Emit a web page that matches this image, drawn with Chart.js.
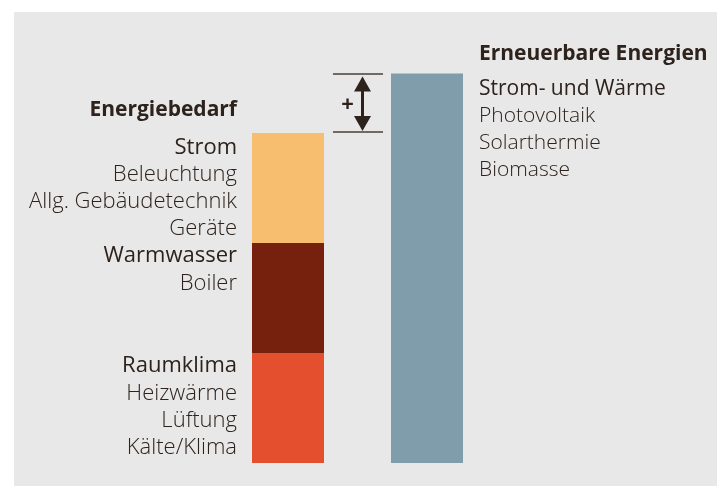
<!DOCTYPE html>
<html>
<head>
<meta charset="utf-8">
<script src="https://cdn.jsdelivr.net/npm/chart.js@4"></script>
<style>
html,body{margin:0;padding:0;background:#ffffff;}
#wrap{position:relative;width:724px;height:486px;}
</style>
</head>
<body>
<div id="wrap"><canvas id="c"></canvas></div>
<script>
// ---- data ----
const categories = ['Energiebedarf', 'Erneuerbare Energien'];
const raumklima = [1, null];
const warmwasser = [1, null];
const strom = [1, null];
const erneuerbar = [null, 3.54];

const demandTitle = 'Energiebedarf';
const stromLabels = ['Strom', 'Beleuchtung', 'Allg. Gebäudetechnik', 'Geräte'];
const warmwasserLabels = ['Warmwasser', 'Boiler'];
const raumklimaLabels = ['Raumklima', 'Heizwärme', 'Lüftung', 'Kälte/Klima'];
const supplyTitle = 'Erneuerbare Energien';
const supplyLabels = ['Strom- und Wärme', 'Photovoltaik', 'Solarthermie', 'Biomasse'];
const deltaLabel = '+';

const TEXT = '#2d221c';
const FONT = '"Open Sans", "Noto Sans", sans-serif';
const FS = 21;

const bgPlugin = {
  id: 'bg',
  beforeDraw(chart) {
    const ctx = chart.ctx;
    ctx.save();
    ctx.fillStyle = '#ffffff';
    ctx.fillRect(0, 0, chart.width, chart.height);
    ctx.fillStyle = '#e8e8e8';
    ctx.fillRect(14, 12, 703, chart.height - 12);
    ctx.restore();
  }
};

function drawLines(ctx, lines, x, y0, step, align, size) {
  ctx.textAlign = align;
  ctx.textBaseline = 'middle';
  lines.forEach((t, i) => {
    ctx.font = (i === 0 ? '500 ' : '300 ') + size + 'px ' + FONT;
    ctx.fillText(t, x, y0 + i * step);
  });
}

const labelPlugin = {
  id: 'labels',
  afterDraw(chart) {
    const ctx = chart.ctx;
    const m0 = chart.getDatasetMeta(0).data[0]; // raumklima
    const m1 = chart.getDatasetMeta(1).data[0]; // warmwasser
    const m2 = chart.getDatasetMeta(2).data[0]; // strom
    const r = chart.getDatasetMeta(3).data[1];  // erneuerbar
    const leftX = m0.x - m0.width / 2 - 15;
    const rightX = r.x + r.width / 2 + 16;
    const step = 26.8;
    ctx.save();
    ctx.fillStyle = TEXT;
    // left side
    ctx.textAlign = 'right';
    ctx.textBaseline = 'middle';
    ctx.font = '700 ' + FS + 'px ' + FONT;
    ctx.fillText(demandTitle, leftX, m2.y - 23);
    drawLines(ctx, stromLabels, leftX, m2.y + 15, step, 'right', 22);
    drawLines(ctx, warmwasserLabels, leftX, m1.y + 13, step + 1, 'right', 22);
    drawLines(ctx, raumklimaLabels, leftX, m0.y + 13, step + 0.5, 'right', 22);
    // right side
    ctx.textAlign = 'left';
    ctx.font = '700 ' + FS + 'px ' + FONT;
    ctx.fillText(supplyTitle, rightX, r.y - 20);
    drawLines(ctx, supplyLabels, rightX, r.y + 15, 27, 'left', 21);

    // bracket
    const topDemand = m2.y;
    const topSupply = r.y;
    const x1 = m2.x + m2.width / 2 + 9;
    const x2 = r.x - r.width / 2 - 8;
    ctx.strokeStyle = '#4a3f38';
    ctx.lineWidth = 1.5;
    ctx.beginPath();
    ctx.moveTo(x1, topSupply + 0.5); ctx.lineTo(x2, topSupply + 0.5);
    ctx.moveTo(x1, topDemand - 1); ctx.lineTo(x2, topDemand - 1);
    ctx.stroke();
    const ax = x1 + 29.5;
    ctx.fillStyle = '#2d221c';
    ctx.strokeStyle = '#2d221c';
    ctx.lineWidth = 3;
    ctx.beginPath();
    ctx.moveTo(ax, topSupply + 14); ctx.lineTo(ax, topDemand - 14);
    ctx.stroke();
    ctx.beginPath();
    ctx.moveTo(ax, topSupply + 3); ctx.lineTo(ax - 8.5, topSupply + 18); ctx.lineTo(ax + 8.5, topSupply + 18); ctx.closePath();
    ctx.fill();
    ctx.beginPath();
    ctx.moveTo(ax, topDemand - 2); ctx.lineTo(ax - 8.5, topDemand - 17); ctx.lineTo(ax + 8.5, topDemand - 17); ctx.closePath();
    ctx.fill();
    ctx.textAlign = 'center';
    ctx.textBaseline = 'middle';
    ctx.font = '700 22px ' + FONT;
    ctx.fillText(deltaLabel, x1 + 14.5, (topSupply + topDemand) / 2 + 1);
    ctx.restore();
  }
};

new Chart(document.getElementById('c'), {
  type: 'bar',
  data: {
    labels: categories,
    datasets: [
      { label: 'Raumklima', data: raumklima, backgroundColor: '#e4502d' },
      { label: 'Warmwasser', data: warmwasser, backgroundColor: '#76200e' },
      { label: 'Strom', data: strom, backgroundColor: '#f8be70' },
      { label: 'Erneuerbare Energien', data: erneuerbar, backgroundColor: '#7f9dab' }
    ]
  },
  options: {
    responsive: true,
    maintainAspectRatio: false,
    animation: false,
    events: [],
    layout: { padding: { left: 218.5, right: 227.5, top: 23, bottom: 23 } },
    datasets: { bar: { categoryPercentage: 1, barPercentage: 72 / 139, borderWidth: 0 } },
    plugins: { legend: { display: false }, tooltip: { enabled: false } },
    scales: {
      x: { display: false, stacked: true },
      y: { display: false, stacked: true, min: 0, max: 4 }
    }
  },
  plugins: [bgPlugin, labelPlugin]
});
</script>
</body>
</html>
